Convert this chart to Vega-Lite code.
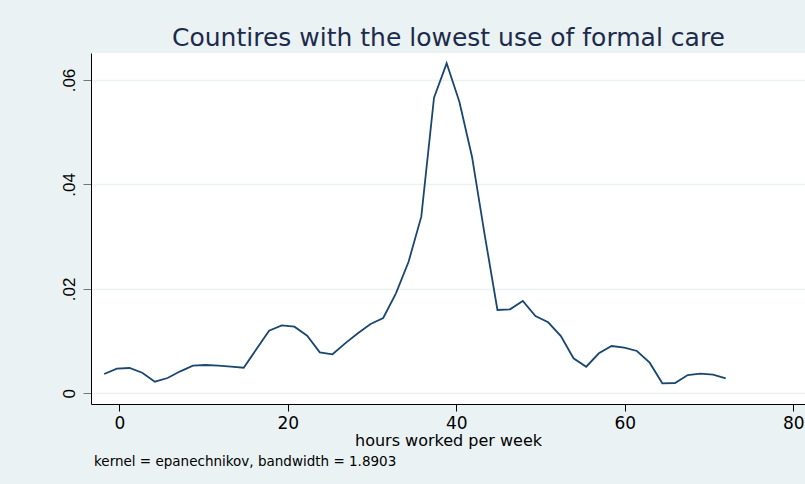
{
  "$schema": "https://vega.github.io/schema/vega-lite/v6.json",
  "autosize": {"type": "none"},
  "width": 714,
  "height": 351,
  "padding": {"left": 91, "top": 53, "right": 0, "bottom": 80},
  "background": "#eaf2f3",
  "config": {"view": {"fill": "white", "stroke": null}},
  "title": {
    "text": "kernel = epanechnikov, bandwidth = 1.8903",
    "orient": "bottom",
    "anchor": "start",
    "frame": "group",
    "font": "DejaVu Sans",
    "fontSize": 13.5,
    "fontWeight": "normal",
    "color": "black",
    "dx": 3,
    "offset": 7
  },
  "data": {
    "values": [
      {"hours": -1.80, "density": 0.00370},
      {"hours": -0.29, "density": 0.00471},
      {"hours": 1.21, "density": 0.00484},
      {"hours": 2.72, "density": 0.00394},
      {"hours": 4.22, "density": 0.00222},
      {"hours": 5.73, "density": 0.00293},
      {"hours": 7.24, "density": 0.00421},
      {"hours": 8.74, "density": 0.00529},
      {"hours": 10.25, "density": 0.00542},
      {"hours": 11.75, "density": 0.00529},
      {"hours": 13.26, "density": 0.00509},
      {"hours": 14.77, "density": 0.00490},
      {"hours": 16.27, "density": 0.00843},
      {"hours": 17.78, "density": 0.01199},
      {"hours": 19.28, "density": 0.01302},
      {"hours": 20.79, "density": 0.01275},
      {"hours": 22.30, "density": 0.01103},
      {"hours": 23.80, "density": 0.00785},
      {"hours": 25.31, "density": 0.00747},
      {"hours": 26.81, "density": 0.00957},
      {"hours": 28.32, "density": 0.01149},
      {"hours": 29.83, "density": 0.01327},
      {"hours": 31.33, "density": 0.01442},
      {"hours": 32.84, "density": 0.01915},
      {"hours": 34.34, "density": 0.02520},
      {"hours": 35.85, "density": 0.03382},
      {"hours": 37.36, "density": 0.05661},
      {"hours": 38.86, "density": 0.06319},
      {"hours": 40.37, "density": 0.05584},
      {"hours": 41.87, "density": 0.04531},
      {"hours": 43.38, "density": 0.03031},
      {"hours": 44.89, "density": 0.01595},
      {"hours": 46.39, "density": 0.01609},
      {"hours": 47.90, "density": 0.01768},
      {"hours": 49.40, "density": 0.01480},
      {"hours": 50.91, "density": 0.01360},
      {"hours": 52.42, "density": 0.01097},
      {"hours": 53.92, "density": 0.00670},
      {"hours": 55.43, "density": 0.00509},
      {"hours": 56.93, "density": 0.00766},
      {"hours": 58.44, "density": 0.00906},
      {"hours": 59.95, "density": 0.00873},
      {"hours": 61.45, "density": 0.00810},
      {"hours": 62.96, "density": 0.00586},
      {"hours": 64.46, "density": 0.00191},
      {"hours": 65.97, "density": 0.00197},
      {"hours": 67.48, "density": 0.00350},
      {"hours": 68.98, "density": 0.00375},
      {"hours": 70.49, "density": 0.00356},
      {"hours": 71.99, "density": 0.00287}
    ]
  },
  "layer": [
    {
      "mark": {"type": "line", "color": "#1a476f", "strokeWidth": 1.8},
      "encoding": {
        "x": {
          "field": "hours",
          "type": "quantitative",
          "scale": {"domain": [-3.36, 81.4], "nice": false, "zero": false},
          "axis": {
            "values": [0, 20, 40, 60, 80],
            "title": "hours worked per week",
            "grid": false,
            "labelFont": "DejaVu Sans",
            "labelFontSize": 17,
            "labelColor": "black",
            "labelPadding": 4,
            "labelFlush": false,
            "labelOverlap": false,
            "tickSize": 7,
            "tickColor": "black",
            "domainColor": "black",
            "titleFont": "DejaVu Sans",
            "titleFontSize": 16,
            "titleFontWeight": "normal",
            "titleColor": "black",
            "titleBaseline": "alphabetic",
            "titleY": 41
          }
        },
        "y": {
          "field": "density",
          "type": "quantitative",
          "title": null,
          "scale": {"domain": [-0.00205, 0.06517], "nice": false, "zero": false},
          "axis": {
            "values": [0, 0.02, 0.04, 0.06],
            "labelExpr": "datum.value == 0 ? '0' : replace(format(datum.value, '.2f'), '0.', '.')",
            "labelAngle": 270,
            "labelAlign": "center",
            "labelBaseline": "alphabetic",
            "labelFont": "Liberation Sans",
            "labelFontSize": 17,
            "labelColor": "black",
            "labelPadding": 9,
            "labelFlush": false,
            "labelOverlap": false,
            "tickSize": 8,
            "tickColor": "#777777",
            "domainColor": "black",
            "grid": true,
            "gridColor": "#eaf2f3",
            "gridWidth": 1.5
          }
        }
      }
    },
    {
      "mark": {"type": "line", "strokeOpacity": 0},
      "encoding": {
        "x": {
          "field": "hours",
          "type": "quantitative",
          "scale": {"domain": [-3.36, 81.4], "nice": false, "zero": false},
          "axis": {
            "orient": "top",
            "title": "Countires with the lowest use of formal care",
            "labels": false,
            "ticks": false,
            "domain": false,
            "grid": false,
            "titleFont": "DejaVu Sans",
            "titleFontSize": 25,
            "titleFontWeight": "normal",
            "titleColor": "#1c2b4c",
            "titleBaseline": "alphabetic",
            "titleY": -8
          }
        },
        "y": {"field": "density", "type": "quantitative", "title": null}
      }
    }
  ],
  "resolve": {"axis": {"x": "independent"}}
}
